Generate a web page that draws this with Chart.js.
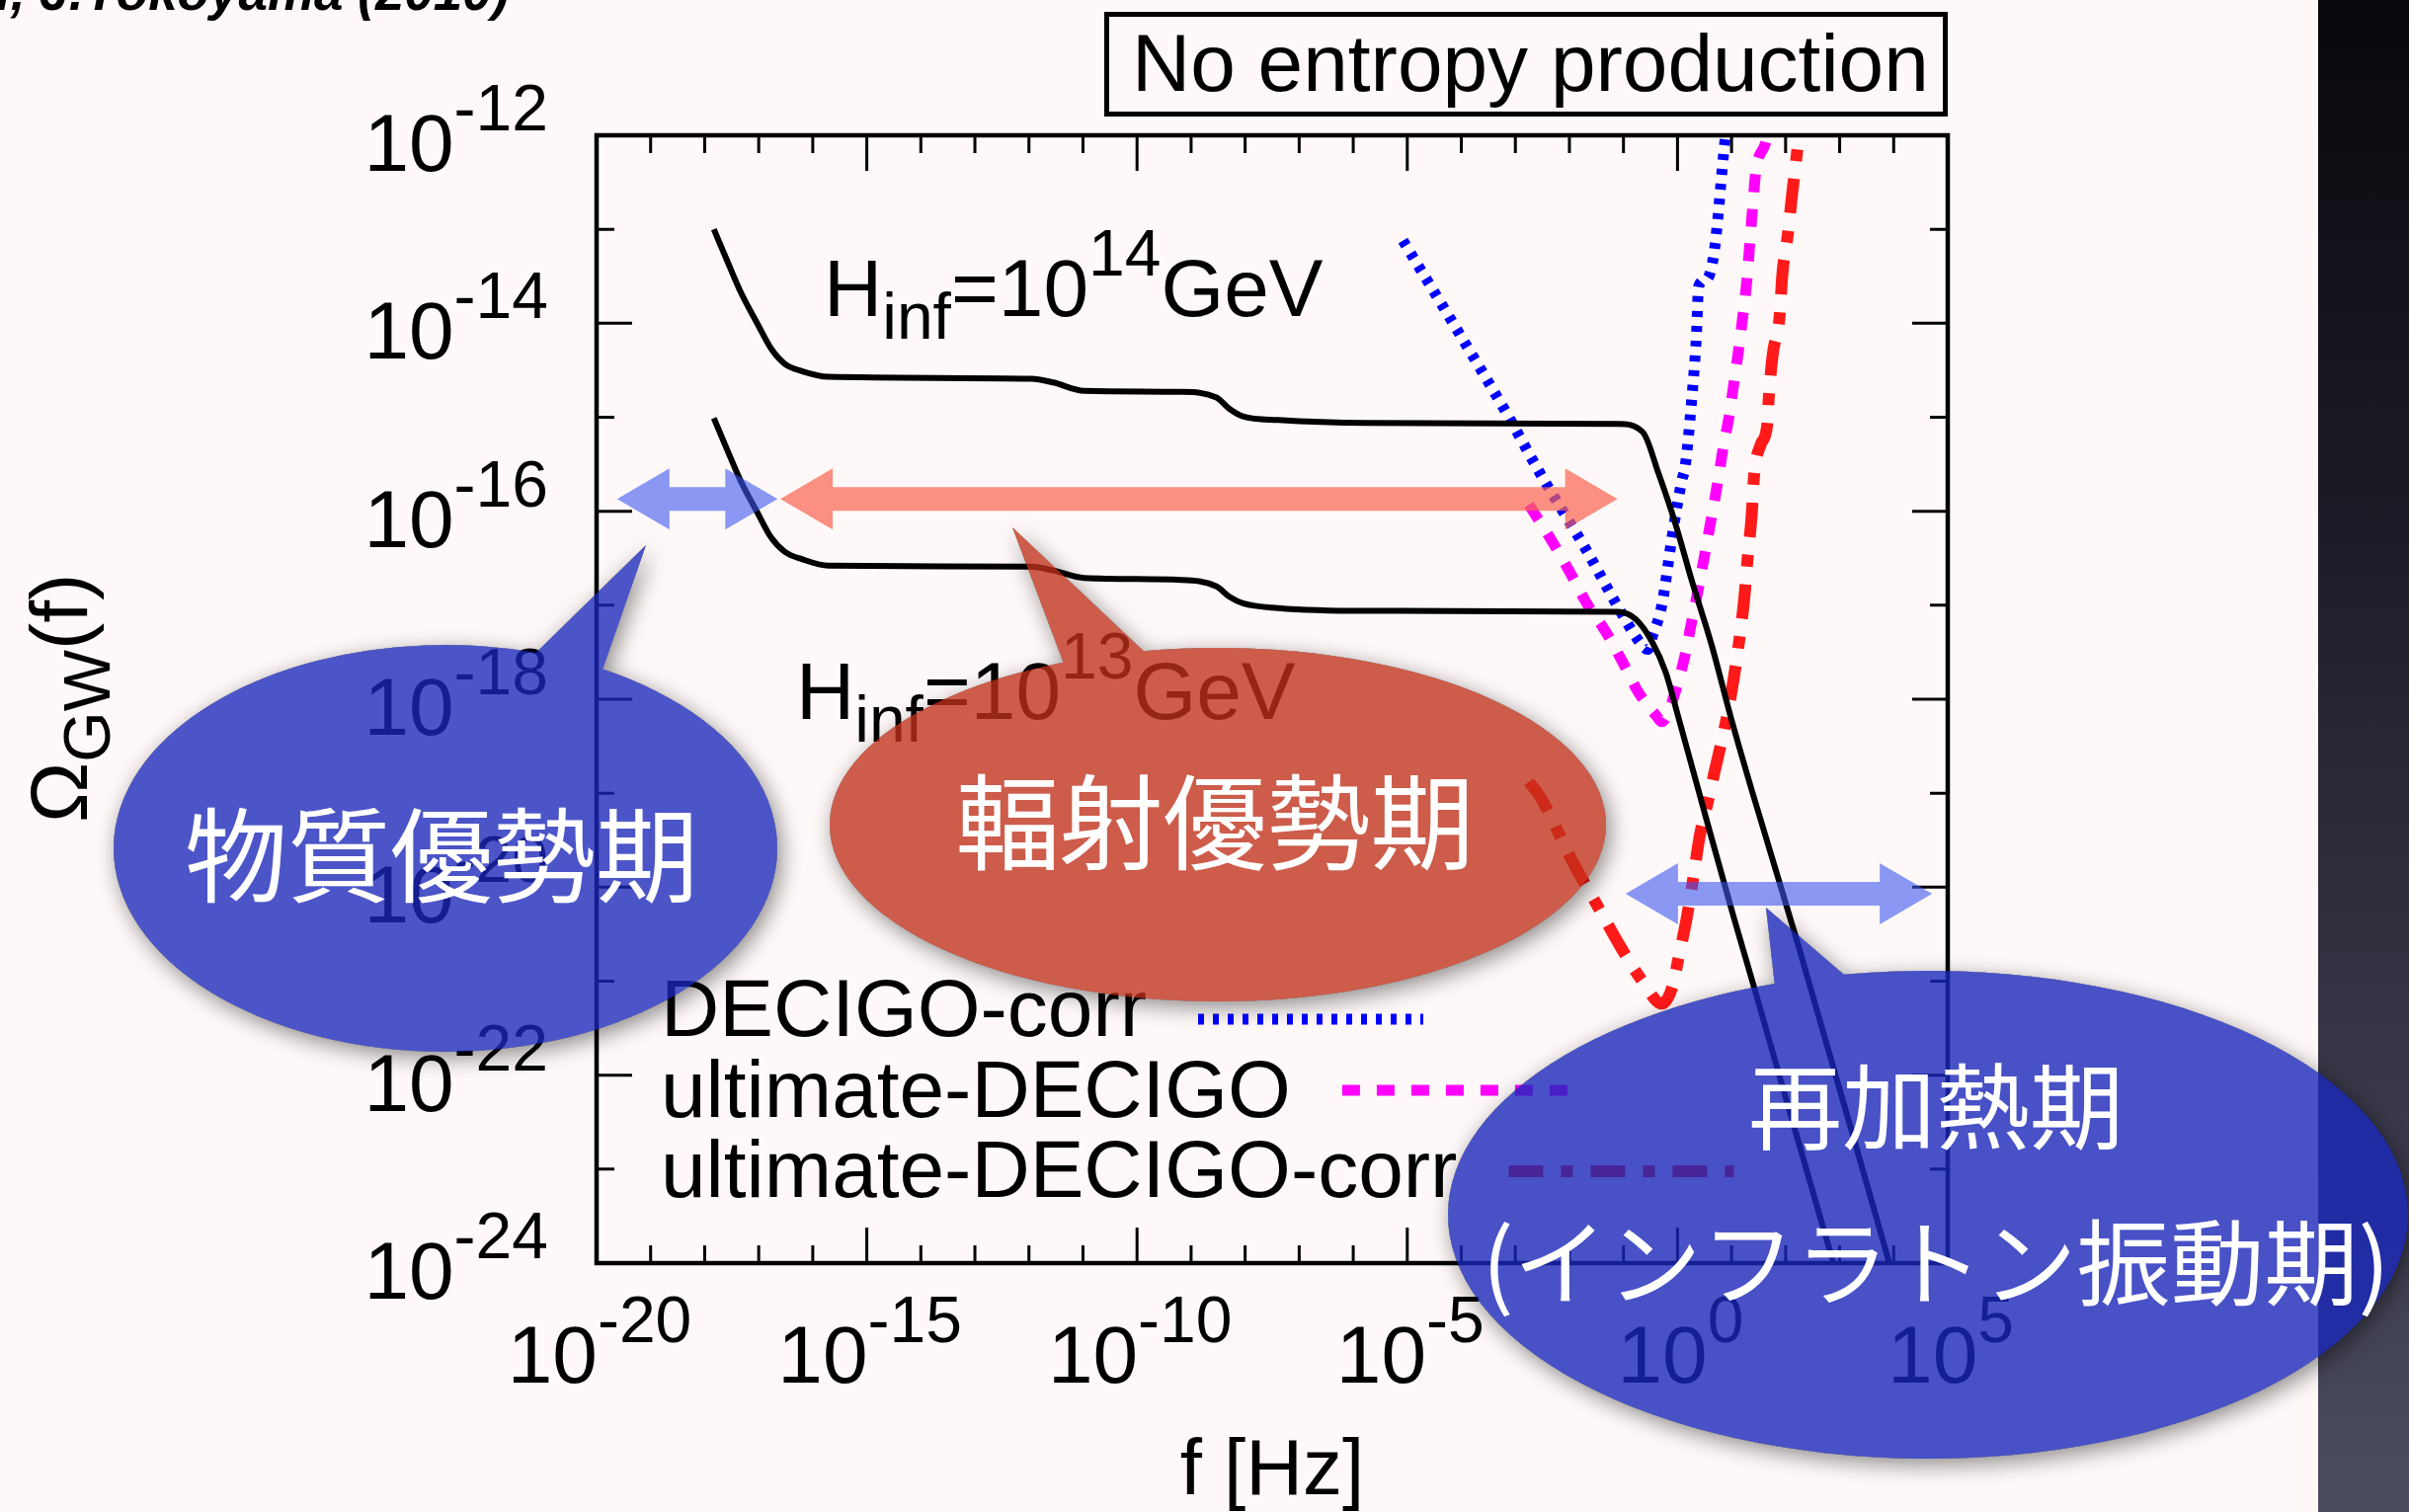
<!DOCTYPE html>
<html>
<head>
<meta charset="utf-8">
<script src="https://cdn.jsdelivr.net/npm/chart.js@4.4.0/dist/chart.umd.min.js"></script>
<style>
  html, body { margin: 0; padding: 0; background: #fef9f8; overflow: hidden; }
  canvas { display: block; }
</style>
</head>
<body>
<canvas id="gwChart" width="2439" height="1531"></canvas>
<script>
// values, as log10 of f [Hz] and log10 of Omega_GW
var h14LogF = [-17.83, -17.58, -17.34, -17.01, -16.77, -16.52, -16.20, -15.71, -11.96, -11.55, -10.98, -9.19, -8.53, -8.29, -8.04, -7.39, -5.76, -1.10, -0.64, -0.35, -0.04, 0.26, 0.63, 0.99, 1.38, 2.22, 3.92, 4.0];
var h14LogOmega = [-13.00, -13.34, -13.66, -14.02, -14.27, -14.43, -14.51, -14.57, -14.59, -14.63, -14.72, -14.73, -14.79, -14.91, -14.99, -15.03, -15.06, -15.07, -15.16, -15.60, -16.13, -16.73, -17.42, -18.20, -18.98, -20.59, -24.0, -24.16];

var h13LogF = [-17.83, -17.58, -17.34, -17.01, -16.77, -16.52, -16.20, -15.71, -11.96, -11.55, -10.98, -9.19, -8.53, -8.29, -8.04, -7.39, -5.76, -1.10, -0.77, -0.47, -0.22, 0.02, 0.55, 1.04, 1.38, 2.885, 2.97];
var h13LogOmega = [-15.01, -15.35, -15.67, -16.03, -16.28, -16.43, -16.51, -16.58, -16.59, -16.63, -16.71, -16.73, -16.80, -16.91, -16.98, -17.03, -17.06, -17.07, -17.15, -17.39, -17.71, -18.20, -19.31, -20.32, -20.99, -24.0, -24.16];

var decigoCorrLogF = [-5.08, -4.10, -3.16, -2.54, -1.69, -1.08, -0.65, -0.55, -0.47, -0.29, -0.10, 0.08, 0.14, 0.26, 0.35, 0.39, 0.51, 0.60, 0.69, 0.87, 0.95];
var decigoCorrLogOmega = [-13.12, -14.05, -14.96, -15.60, -16.41, -17.04, -17.43, -17.47, -17.34, -17.00, -16.27, -15.67, -15.53, -14.83, -14.13, -13.61, -13.54, -13.47, -13.19, -12.10, -11.70];

var ultDecigoLogF = [-2.75, -2.30, -1.99, -1.69, -1.32, -1.02, -0.72, -0.40, -0.29, -0.18, -0.04, 0.14, 0.26, 0.39, 0.51, 0.63, 0.75, 0.84, 0.96, 1.05, 1.14, 1.22, 1.29, 1.34, 1.39, 1.45, 1.63, 1.70];
var ultDecigoLogOmega = [-15.93, -16.34, -16.65, -16.97, -17.29, -17.60, -17.93, -18.17, -18.24, -18.15, -17.92, -17.53, -17.18, -16.81, -16.44, -16.06, -15.67, -15.34, -14.97, -14.61, -14.24, -13.87, -13.50, -13.13, -12.77, -12.38, -12.08, -11.90];

var ultCorrLogF = [-2.75, -2.54, -1.93, -1.45, -1.08, -0.65, -0.29, -0.10, 0.02, 0.17, 0.29, 0.41, 0.57, 0.69, 0.91, 1.04, 1.15, 1.24, 1.30, 1.37, 1.42, 1.54, 1.66, 1.69, 1.76, 1.89, 1.94, 2.04, 2.12, 2.21, 2.26];
var ultCorrLogOmega = [-18.88, -19.04, -19.74, -20.23, -20.61, -21.00, -21.24, -21.07, -20.75, -20.33, -19.91, -19.46, -19.07, -18.76, -18.20, -17.78, -17.34, -16.90, -16.48, -16.06, -15.60, -15.29, -15.08, -14.78, -14.34, -13.92, -13.48, -13.06, -12.63, -12.19, -11.90];

var seriesLabels = ['DECIGO-corr', 'ultimate-DECIGO', 'ultimate-DECIGO-corr'];

// tick labels (exponents of 10)
var xTickExps = [-20, -15, -10, -5, 0, 5];
var yTickExps = [-12, -14, -16, -18, -20, -22, -24];

// eras marked by the arrows: log10 f range and log10 Omega height
var eraNames = ['物質優勢期', '輻射優勢期', '再加熱期'];
var eraLogFStart = [-19.62, -16.60, -0.96];
var eraLogFEnd = [-16.65, -1.11, 4.71];
var eraLogOmega = [-15.87, -15.87, -20.07];

function pts(lf, lo) {
  var out = [];
  for (var i = 0; i < lf.length; i++) out.push({ x: Math.pow(10, lf[i]), y: Math.pow(10, lo[i]) });
  return out;
}

var FONT = '"Liberation Sans", Arial, Helvetica, sans-serif';
var CJK = '"Noto Sans CJK JP", "Noto Sans CJK SC", sans-serif';

// gnuplot style enhanced text: segments with optional sub / sup
function drawRich(ctx, segs, x, y, size) {
  var small = Math.round(size * 0.8);
  ctx.textAlign = 'left';
  ctx.textBaseline = 'alphabetic';
  for (var i = 0; i < segs.length; i++) {
    var s = segs[i];
    var dy = 0, fs = size;
    if (s.sub) { dy = 23; fs = small; }
    if (s.sup) { dy = -41; fs = small; }
    ctx.font = fs + 'px ' + FONT;
    ctx.fillText(s.t, x, y + dy);
    x += ctx.measureText(s.t).width;
  }
  return x;
}
function richWidth(ctx, segs, size) {
  var w = 0, small = Math.round(size * 0.8);
  segs.forEach(function (s) {
    ctx.font = ((s.sub || s.sup) ? small : size) + 'px ' + FONT;
    w += ctx.measureText(s.t).width;
  });
  return w;
}
function pow10(e) { return [{ t: '10' }, { t: String(e), sup: true }]; }

function dblArrow(ctx, x1, x2, y, color) {
  var hl = 53, hh = 31, sh = 12;
  ctx.beginPath();
  ctx.moveTo(x1, y);
  ctx.lineTo(x1 + hl, y - hh); ctx.lineTo(x1 + hl, y - sh);
  ctx.lineTo(x2 - hl, y - sh); ctx.lineTo(x2 - hl, y - hh);
  ctx.lineTo(x2, y);
  ctx.lineTo(x2 - hl, y + hh); ctx.lineTo(x2 - hl, y + sh);
  ctx.lineTo(x1 + hl, y + sh); ctx.lineTo(x1 + hl, y + hh);
  ctx.closePath();
  ctx.fillStyle = color;
  ctx.fill();
}

// speech bubbles (slide annotations, pixel layout)
var bubbles = [
  { cx: 451, cy: 859, rx: 336, ry: 206, a0: -1.077, a1: -1.294 + 2 * Math.PI, tip: [654, 552],
    fill: 'rgba(26,39,185,0.78)', lines: [eraNames[0]], tx: 447, ty: [866], size: 104 },
  { cx: 1233, cy: 835, rx: 393, ry: 179, a0: -1.763, a1: -1.98 + 2 * Math.PI, tip: [1025, 534],
    fill: 'rgba(191,47,26,0.78)', lines: [eraNames[1]], tx: 1230, ty: [832], size: 105 },
  { cx: 1952, cy: 1230, rx: 486, ry: 247, a0: -1.747, a1: -1.896 + 2 * Math.PI, tip: [1788, 919],
    fill: 'rgba(26,39,185,0.8)', lines: [eraNames[2], '(インフラトン振動期)'], tx: 1960, ty: [1121, 1279], size: 95 }
];
function bubblePath(ctx, b) {
  ctx.moveTo(b.cx + b.rx * Math.cos(b.a0), b.cy + b.ry * Math.sin(b.a0));
  ctx.ellipse(b.cx, b.cy, b.rx, b.ry, 0, b.a0, b.a1);
  ctx.lineTo(b.tip[0], b.tip[1]);
  ctx.closePath();
}

var slidePlugin = {
  id: 'slide',
  beforeDraw: function (chart) {
    var ctx = chart.ctx, W = chart.width, H = chart.height;
    ctx.save();
    ctx.fillStyle = '#fef9f8';
    ctx.fillRect(0, 0, W, H);
    var g = ctx.createLinearGradient(0, 0, 0, H);
    g.addColorStop(0, '#08080c');
    g.addColorStop(0.35, '#1c1c28');
    g.addColorStop(1, '#4c4c60');
    ctx.fillStyle = g;
    ctx.fillRect(2347, 0, W - 2347, H);
    ctx.restore();
  },
  afterDatasetsDraw: function (chart) {
    var ctx = chart.ctx, a = chart.chartArea;
    var xs = chart.scales.x, ys = chart.scales.y;
    ctx.save();
    ctx.strokeStyle = '#000';
    ctx.fillStyle = '#000';

    // frame and inward ticks
    ctx.lineWidth = 3;
    ctx.beginPath();
    for (var e = -20; e <= 5; e++) {
      var px = xs.getPixelForValue(Math.pow(10, e));
      var len = (e % 5 === 0) ? 36 : 18;
      ctx.moveTo(px, a.bottom); ctx.lineTo(px, a.bottom - len);
      ctx.moveTo(px, a.top); ctx.lineTo(px, a.top + len);
    }
    for (var k = -24; k <= -12; k++) {
      var py = ys.getPixelForValue(Math.pow(10, k));
      var ln = (k % 2 === 0) ? 36 : 18;
      ctx.moveTo(a.left, py); ctx.lineTo(a.left + ln, py);
      ctx.moveTo(a.right, py); ctx.lineTo(a.right - ln, py);
    }
    ctx.stroke();
    ctx.lineWidth = 4.5;
    ctx.strokeRect(a.left, a.top, a.right - a.left, a.bottom - a.top);

    // tick labels
    xTickExps.forEach(function (e) {
      var segs = pow10(e);
      var w = richWidth(ctx, segs, 82);
      drawRich(ctx, segs, xs.getPixelForValue(Math.pow(10, e)) - w / 2 + 3, a.bottom + 121, 82);
    });
    yTickExps.forEach(function (e) {
      var segs = pow10(e);
      var w = richWidth(ctx, segs, 82);
      drawRich(ctx, segs, 555 - w, ys.getPixelForValue(Math.pow(10, e)) + 36, 82);
    });

    // axis titles
    ctx.font = '80px ' + FONT;
    ctx.textAlign = 'center';
    ctx.fillText('f [Hz]', (a.left + a.right) / 2, 1513);
    ctx.save();
    ctx.translate(88, 833);
    ctx.rotate(-Math.PI / 2);
    drawRich(ctx, [{ t: 'Ω' }, { t: 'GW', sub: true }, { t: '(f)' }], 0, 0, 82);
    ctx.restore();

    // curve labels
    drawRich(ctx, [{ t: 'H' }, { t: 'inf', sub: true }, { t: '=10' }, { t: '14', sup: true }, { t: 'GeV' }], 834, 320, 82);
    drawRich(ctx, [{ t: 'H' }, { t: 'inf', sub: true }, { t: '=10' }, { t: '13', sup: true }, { t: 'GeV' }], 806, 728, 82);

    // key
    var keyBase = [1049, 1131, 1212];
    var keyLine = [1032, 1104, 1186];
    for (var i = 0; i < seriesLabels.length; i++) {
      var ds = chart.data.datasets[i + 2];
      ctx.font = '82px ' + FONT;
      ctx.textAlign = 'left';
      ctx.fillStyle = '#000';
      ctx.fillText(seriesLabels[i], 669, keyBase[i]);
      var x0 = 669 + ctx.measureText(seriesLabels[i]).width + 52;
      ctx.save();
      ctx.strokeStyle = ds.borderColor;
      ctx.lineWidth = ds.borderWidth;
      ctx.setLineDash(ds.borderDash);
      ctx.beginPath();
      ctx.moveTo(x0, keyLine[i]);
      ctx.lineTo(x0 + 228, keyLine[i]);
      ctx.stroke();
      ctx.restore();
    }

    // boxed title and citation
    ctx.lineWidth = 5;
    ctx.strokeRect(1120.5, 14.5, 849, 101);
    ctx.font = '82px ' + FONT;
    ctx.fillText('No entropy production', 1146, 92);
    ctx.font = 'italic bold 53px ' + FONT;
    ctx.fillText('i, J.Yokoyama (2010)', -4, 10);

    // era arrows
    var arrowColors = ['rgba(60,85,240,0.6)', 'rgba(249,100,80,0.7)', 'rgba(60,85,240,0.6)'];
    for (var j = 0; j < eraNames.length; j++) {
      dblArrow(ctx,
        xs.getPixelForValue(Math.pow(10, eraLogFStart[j])),
        xs.getPixelForValue(Math.pow(10, eraLogFEnd[j])),
        ys.getPixelForValue(Math.pow(10, eraLogOmega[j])),
        arrowColors[j]);
    }

    // bubbles: soft shadow outside only, then translucent fill, then text
    bubbles.forEach(function (b) {
      ctx.save();
      ctx.beginPath();
      ctx.rect(0, 0, chart.width, chart.height);
      bubblePath(ctx, b);
      ctx.clip('evenodd');
      ctx.shadowColor = 'rgba(0,0,0,0.45)';
      ctx.shadowBlur = 22;
      ctx.shadowOffsetX = 4;
      ctx.shadowOffsetY = 6;
      ctx.beginPath();
      bubblePath(ctx, b);
      ctx.fillStyle = '#000';
      ctx.fill();
      ctx.restore();

      ctx.beginPath();
      bubblePath(ctx, b);
      ctx.fillStyle = b.fill;
      ctx.fill();

      ctx.fillStyle = '#ffffff';
      ctx.font = b.size + 'px ' + CJK;
      ctx.textAlign = 'center';
      ctx.textBaseline = 'middle';
      b.lines.forEach(function (t, n) { ctx.fillText(t, b.tx, b.ty[n]); });
    });
    ctx.restore();
  }
};

var ctx = document.getElementById('gwChart').getContext('2d');
var common = { pointRadius: 0, fill: false, cubicInterpolationMode: 'monotone', borderCapStyle: 'butt' };
var chart = new Chart(ctx, {
  type: 'line',
  data: {
    datasets: [
      Object.assign({ label: 'Hinf=1e14GeV', data: pts(h14LogF, h14LogOmega), borderColor: '#000000', borderWidth: 6 }, common),
      Object.assign({ label: 'Hinf=1e13GeV', data: pts(h13LogF, h13LogOmega), borderColor: '#000000', borderWidth: 6 }, common),
      Object.assign({ label: seriesLabels[0], data: pts(decigoCorrLogF, decigoCorrLogOmega), borderColor: '#0000ff', borderWidth: 11, borderDash: [6, 9] }, common),
      Object.assign({ label: seriesLabels[1], data: pts(ultDecigoLogF, ultDecigoLogOmega), borderColor: '#ff00ff', borderWidth: 11, borderDash: [18, 17] }, common),
      Object.assign({ label: seriesLabels[2], data: pts(ultCorrLogF, ultCorrLogOmega), borderColor: '#ff1a1a', borderWidth: 12, borderDash: [35, 18, 12, 18] }, common)
    ]
  },
  options: {
    responsive: false,
    animation: false,
    events: [],
    layout: { padding: { left: 604, right: 467, top: 137, bottom: 252 } },
    plugins: { legend: { display: false }, tooltip: { enabled: false } },
    scales: {
      x: { type: 'logarithmic', min: 1e-20, max: 1e5, display: false },
      y: { type: 'logarithmic', min: 1e-24, max: 1e-12, display: false }
    }
  },
  plugins: [slidePlugin]
});
</script>
</body>
</html>
